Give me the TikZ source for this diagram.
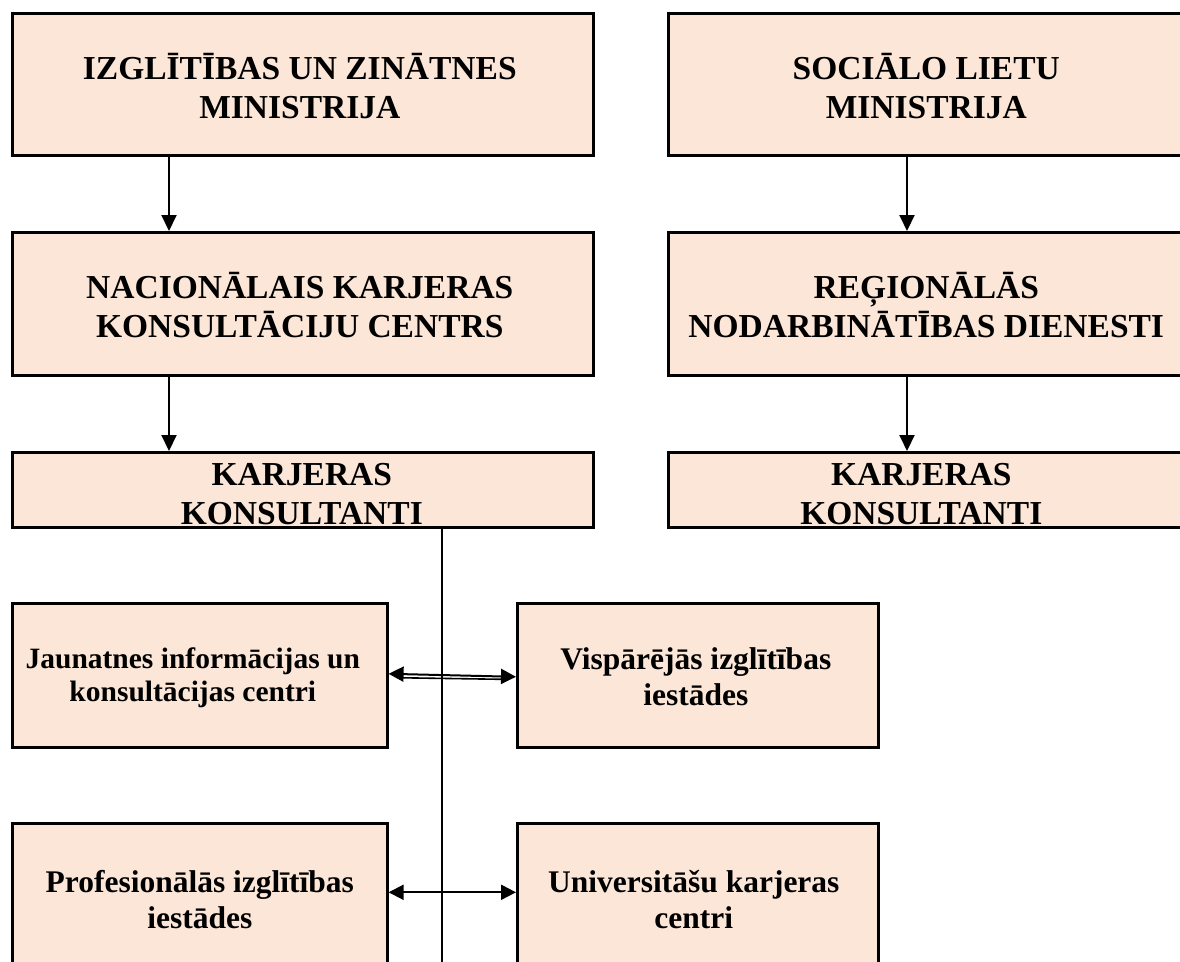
\documentclass[tikz,border=0pt]{standalone}
\usepackage{fontspec}
\setmainfont{Liberation Serif}
\usetikzlibrary{arrows.meta,calc}
\definecolor{peach}{HTML}{FBE6D7}
\begin{document}
\begin{tikzpicture}[x=1pt,y=-1pt,
  box/.style={draw=black, line width=2.6pt, fill=peach, inner sep=0pt, anchor=north west},
  bigtxt/.style={align=center, inner sep=0pt, font=\fontsize{33.5}{39}\selectfont\bfseries},
  smalltxt/.style={align=center, inner sep=0pt, font=\fontsize{31.5}{36}\selectfont\bfseries},
  tinytxt/.style={align=center, inner sep=0pt, font=\fontsize{29.5}{33}\selectfont\bfseries},
  arr/.style={line width=2pt, -{Triangle[length=16pt,width=15pt]}},
  harr/.style={line width=2pt, {Triangle[length=15pt,width=15pt]}-{Triangle[length=15pt,width=15pt]}}
]
\useasboundingbox (0,0) rectangle (1180,961);
\clip (0,0) rectangle (1180,961);
% left column
\node[box, minimum width=581pt, minimum height=142pt] (izm) at (11,12) {};
\node[box, minimum width=581pt, minimum height=143pt] (nkkc) at (11,231) {};
\node[box, minimum width=581pt, minimum height=75pt] (kkl) at (11,451) {};
% right column
\node[box, minimum width=514pt, minimum height=142pt] (slm) at (667,12) {};
\node[box, minimum width=514pt, minimum height=143pt] (rnd) at (667,231) {};
\node[box, minimum width=514pt, minimum height=75pt] (kkr) at (667,451) {};
% lower boxes
\node[box, minimum width=375pt, minimum height=144pt] (jic) at (11,602) {};
\node[box, minimum width=361pt, minimum height=144pt] (vis) at (516,602) {};
\node[box, minimum width=375pt, minimum height=144pt] (pf) at (11,822) {};
\node[box, minimum width=361pt, minimum height=144pt] (uni) at (516,822) {};
% texts
\node[bigtxt] (izmt) at ($(izm.center)+(-3,2)$) {IZGLĪTĪBAS UN ZINĀTNES\\MINISTRIJA};
\node[bigtxt] (nkkct) at ($(nkkc.center)+(-3,1)$) {NACIONĀLAIS KARJERAS\\KONSULTĀCIJU CENTRS};
\node[bigtxt] (kklt) at ($(kkl.center)+(-1,4)$) {KARJERAS\\KONSULTANTI};
\node[bigtxt] (slmt) at ($(slm.center)+(1,2)$) {SOCIĀLO LIETU\\MINISTRIJA};
\node[bigtxt] (rndt) at ($(rnd.center)+(1,1)$) {REĢIONĀLĀS\\NODARBINĀTĪBAS DIENESTI};
\node[bigtxt] (kkrt) at ($(kkr.center)+(-4,4)$) {KARJERAS\\KONSULTANTI};
\node[tinytxt] (jict) at ($(jic.center)+(-7,2)$) {Jaunatnes informācijas un\\konsultācijas centri};
\node[smalltxt] (vist) at ($(vis.center)+(-2,1)$) {Vispārējās izglītības\\iestādes};
\node[smalltxt] (pft) at ($(pf.center)+(0,4)$) {Profesionālās izglītības\\iestādes};
\node[smalltxt] (unit) at ($(uni.center)+(-4,4)$) {Universitāšu karjeras\\centri};
% vertical arrows
\coordinate (ax) at (169,0);
\coordinate (bx) at (907,0);
\draw[arr] (izm.south -| ax) -- (nkkc.north -| ax);
\draw[arr] (nkkc.south -| ax) -- (kkl.north -| ax);
\draw[arr] (slm.south -| bx) -- (rnd.north -| bx);
\draw[arr] (rnd.south -| bx) -- (kkr.north -| bx);
% vertical line
\coordinate (vb) at (442,975);
\draw[line width=1.4pt] (kkl.south -| vb) -- (vb);
% horizontal double arrows
\draw[harr] ([yshift=1.5pt]jic.east) -- ([yshift=-1.5pt]vis.west);
\draw[line width=1.6pt] ([xshift=14pt,yshift=-2.5pt]jic.east) -- ([xshift=-14pt,yshift=-4pt]vis.west);
\draw[harr] ([yshift=3pt]pf.east) -- ([yshift=3pt]uni.west);
\end{tikzpicture}
\end{document}
